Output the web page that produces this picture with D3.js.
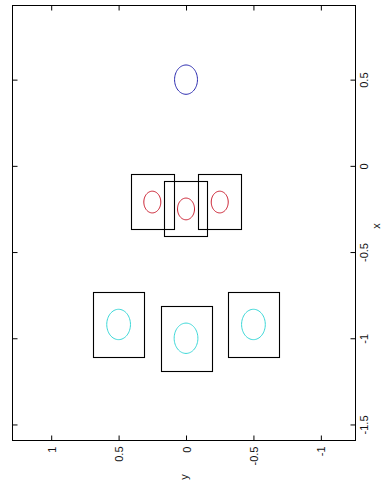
<!DOCTYPE html>
<html>
<head>
<meta charset="utf-8">
<script src="https://cdn.jsdelivr.net/npm/d3@7/dist/d3.min.js"></script>
<style>
  html, body { margin: 0; padding: 0; background: #ffffff; overflow: hidden; }
  svg { display: block; }
  text { font-family: "Liberation Sans", Arial, Helvetica, sans-serif; }
</style>
</head>
<body>
<svg id="chart" width="381" height="488"></svg>
<script>
// Axis limits (x runs vertically, y runs horizontally, reversed)
const xLim = [0.930, -1.593];
const yLim = [1.287, -1.257];

// Tick values
const xTicks = [0.5, 0, -0.5, -1, -1.5];
const yTicks = [1, 0.5, 0, -0.5, -1];

// Circle centres (x, y) and radii per group
const blueX = [0.5];
const blueY = [0];
const blueR = 0.085;

const redX = [-0.21, -0.25, -0.21];
const redY = [0.25, 0, -0.25];
const redR = 0.063;
const redBox = 0.16;      // half side of the square around each red circle

const cyanX = [-0.92, -1.0, -0.92];
const cyanY = [0.5, 0, -0.5];
const cyanR = 0.088;
const cyanBox = 0.188;    // half side of the square around each cyan circle

const colors = { blue: "#2b2bb0", red: "#cc2233", cyan: "#3cd8d8" };

// Layout
const box = { left: 12.5, right: 355.5, top: 5.5, bottom: 440.5 };
const svg = d3.select("#chart");

const sy = d3.scaleLinear().domain(yLim).range([box.left, box.right]);
const sx = d3.scaleLinear().domain(xLim).range([box.top, box.bottom]);

const fmt = d => String(d);
const tick = 5;

// Axes: ticks point inwards on all four sides
const gBottom = svg.append("g").attr("transform", `translate(0,${box.bottom})`)
  .call(d3.axisBottom(sy).tickValues(yTicks).tickSize(-tick).tickSizeOuter(0).tickFormat(fmt));
const gTop = svg.append("g").attr("transform", `translate(0,${box.top})`)
  .call(d3.axisTop(sy).tickValues(yTicks).tickSize(-tick).tickSizeOuter(0).tickFormat(""));
const gLeft = svg.append("g").attr("transform", `translate(${box.left},0)`)
  .call(d3.axisLeft(sx).tickValues(xTicks).tickSize(-tick).tickSizeOuter(0).tickFormat(""));
const gRight = svg.append("g").attr("transform", `translate(${box.right},0)`)
  .call(d3.axisRight(sx).tickValues(xTicks).tickSize(-tick).tickSizeOuter(0).tickFormat(fmt));

[gBottom, gTop, gLeft, gRight].forEach(g => {
  g.select(".domain").remove();
  g.selectAll(".tick line").attr("stroke", "#000").attr("stroke-width", 1);
  g.selectAll("text").attr("font-family", null);
});

// Bottom labels: rotated, reading upwards, hanging below the axis
gBottom.selectAll(".tick text")
  .attr("font-size", 11).attr("fill", "#111")
  .attr("text-anchor", "end")
  .attr("dy", null)
  .attr("transform", "translate(4,6) rotate(-90)")
  .attr("x", 0).attr("y", 0);

// Right labels: rotated, centred on each tick
gRight.selectAll(".tick text")
  .attr("font-size", 11).attr("fill", "#111")
  .attr("text-anchor", "middle")
  .attr("dy", null)
  .attr("transform", "translate(12,0) rotate(-90)")
  .attr("x", 0).attr("y", 0);

// Axes box
svg.append("rect")
  .attr("x", box.left).attr("y", box.top)
  .attr("width", box.right - box.left).attr("height", box.bottom - box.top)
  .attr("fill", "none").attr("stroke", "#000").attr("stroke-width", 1);

// Axis titles
svg.append("text")
  .attr("transform", `translate(${(box.left + box.right) / 2 + 4},477) rotate(-90)`)
  .attr("text-anchor", "middle").attr("font-size", 11).attr("fill", "#111")
  .text("y");
svg.append("text")
  .attr("transform", `translate(380,${(box.top + box.bottom) / 2 + 3}) rotate(-90)`)
  .attr("text-anchor", "middle").attr("font-size", 11).attr("fill", "#111")
  .text("x");

// Circle outline sampled in data space and mapped through the scales
const angles = d3.range(0, 65).map(i => i / 64 * 2 * Math.PI);
const line = d3.line().x(p => sy(p[1])).y(p => sx(p[0]));
function circlePath(cx, cy, r) {
  return line(angles.map(t => [cx + r * Math.sin(t), cy + r * Math.cos(t)]));
}

function drawBoxes(xs, ys, h) {
  svg.append("g").selectAll("rect").data(xs.map((x, i) => [x, ys[i]]))
    .join("rect")
    .attr("x", d => Math.round(sy(d[1] + h)) + 0.5)
    .attr("y", d => Math.round(sx(d[0] + h)) + 0.5)
    .attr("width", d => Math.round(sy(d[1] - h) - sy(d[1] + h)))
    .attr("height", d => Math.round(sx(d[0] - h) - sx(d[0] + h)))
    .attr("fill", "none").attr("stroke", "#000").attr("stroke-width", 1.1);
}

function drawCircles(xs, ys, r, color) {
  svg.append("g").selectAll("path").data(xs.map((x, i) => [x, ys[i]]))
    .join("path")
    .attr("d", d => circlePath(d[0], d[1], r))
    .attr("fill", "none").attr("stroke", color).attr("stroke-width", 1);
}

drawBoxes(redX, redY, redBox);
drawBoxes(cyanX, cyanY, cyanBox);
drawCircles(blueX, blueY, blueR, colors.blue);
drawCircles(redX, redY, redR, colors.red);
drawCircles(cyanX, cyanY, cyanR, colors.cyan);
</script>
</body>
</html>
